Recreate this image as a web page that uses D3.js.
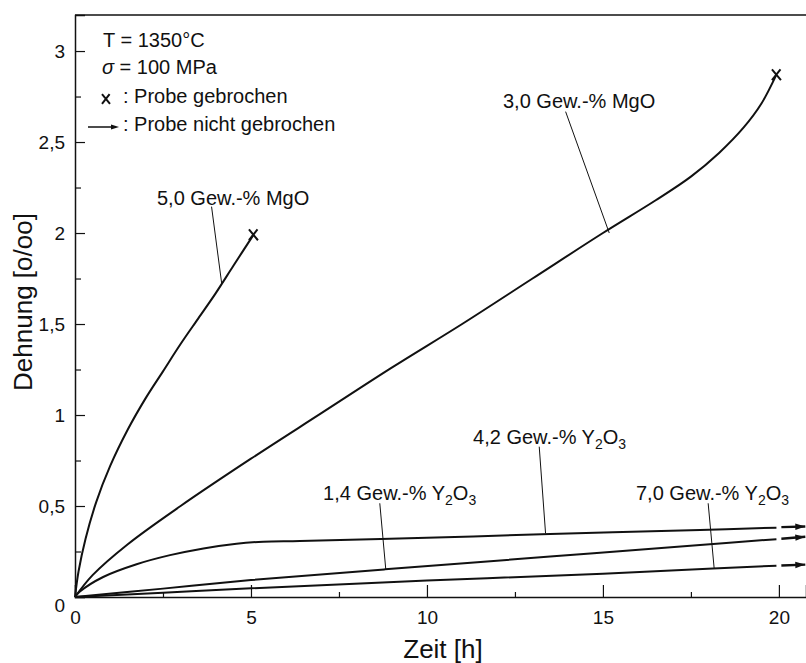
<!DOCTYPE html>
<html>
<head>
<meta charset="utf-8">
<script src="https://cdn.jsdelivr.net/npm/d3@7"></script>
<style>
  body { margin: 0; background: #fff; }
  svg { display: block; font-family: "Liberation Sans", Arial, Helvetica, sans-serif; }
</style>
</head>
<body>
<svg id="chart" width="806" height="663"></svg>
<script>
// creep curves, T = 1350 C, sigma = 100 MPa
// time [h] and strain [o/oo]

// 5,0 Gew.-% MgO (broken)
const TIME_MGO5 = [0, 0.1, 0.3, 0.6, 1.0, 1.5, 2.0, 2.5, 3.0, 3.5, 4.0, 4.5, 5.07]
const STRAIN_MGO5 = [0, 0.14, 0.32, 0.52, 0.72, 0.92, 1.09, 1.24, 1.39, 1.53, 1.67, 1.82, 1.99]

// 3,0 Gew.-% MgO (broken)
const TIME_MGO3 = [0, 0.5, 1.5, 3, 5, 7, 9, 11, 13, 15, 16.5, 17.5, 18.3, 19.0, 19.5, 19.93]
const STRAIN_MGO3 = [0, 0.12, 0.29, 0.50, 0.76, 1.01, 1.26, 1.50, 1.75, 2.00, 2.18, 2.31, 2.44, 2.58, 2.71, 2.87]

// 4,2 Gew.-% Y2O3 (not broken)
const TIME_Y42 = [0, 0.14, 0.8, 1.75, 2.7, 3.65, 4.59, 5.35, 6.39, 10, 13.5, 17.76, 19.93]
const STRAIN_Y42 = [0, 0.03, 0.11, 0.18, 0.23, 0.267, 0.293, 0.304, 0.308, 0.325, 0.346, 0.368, 0.381]

// 1,4 Gew.-% Y2O3 (not broken)
const TIME_Y14 = [0, 2.5, 5, 8.81, 13.5, 17.76, 19.93]
const STRAIN_Y14 = [0, 0.046, 0.093, 0.152, 0.222, 0.286, 0.318]

// 7,0 Gew.-% Y2O3 (not broken)
const TIME_Y70 = [0, 2.5, 5, 10, 15, 18.13, 19.93]
const STRAIN_Y70 = [0, 0.024, 0.048, 0.09, 0.128, 0.157, 0.172]

// short continuation after the gap, ending in an arrow
const TIME_TAIL = [20.07, 20.75]
const TAIL_Y42 = [0.384, 0.387]
const TAIL_Y14 = [0.320, 0.331]
const TAIL_Y70 = [0.173, 0.178]

const X_TICKS = [0, 5, 10, 15, 20]
const X_MINOR = [2.5, 7.5, 12.5, 17.5]
const Y_TICKS = [0, 0.5, 1, 1.5, 2, 2.5, 3]
const Y_MINOR = [0.25, 0.75, 1.25, 1.75, 2.25, 2.75]

const INK = '#111'

const svg = d3.select('#chart')

const x = d3.scaleLinear().domain([0, 20.77]).range([75, 806])
const y = d3.scaleLinear().domain([0, 3.198]).range([597, 15])

const comma = d => String(d).replace('.', ',')

/**
 * axes, ticks pointing inwards
 */
svg.append('g')
	.attr('transform', `translate(0,${y(0)})`)
	.call(d3.axisBottom(x).tickValues(X_TICKS).tickSize(-12).tickPadding(14).tickFormat(comma))

svg.append('g')
	.attr('transform', `translate(0,${y(0)})`)
	.call(d3.axisBottom(x).tickValues(X_MINOR).tickSize(-5).tickFormat(''))
	.call(g => g.select('.domain').remove())

const yAxis = svg.append('g')
	.attr('transform', `translate(${x(0)},0)`)
	.call(d3.axisLeft(y).tickValues(Y_TICKS).tickSize(-10).tickPadding(10).tickFormat(comma))

svg.append('g')
	.attr('transform', `translate(${x(0)},0)`)
	.call(d3.axisLeft(y).tickValues(Y_MINOR).tickSize(-6).tickFormat(''))
	.call(g => g.select('.domain').remove())

svg.selectAll('.domain').attr('stroke', INK).attr('stroke-width', 1.5)
svg.selectAll('.tick line').attr('stroke', INK).attr('stroke-width', 1.2)
svg.selectAll('.tick text')
	.attr('fill', INK)
	.style('font-size', '19px')
	.style('font-family', '"Liberation Sans", Arial, sans-serif')

// the 0 on the y axis sits a bit low in the original
yAxis.selectAll('.tick').filter(d => d === 0).select('text').attr('dy', '0.75em')

// top frame line
svg.append('line')
	.attr('x1', x(0)).attr('x2', x.range()[1])
	.attr('y1', y.range()[1]).attr('y2', y.range()[1])
	.attr('stroke', INK).attr('stroke-width', 1.5)

// axis titles
svg.append('text')
	.attr('x', 443).attr('y', 658)
	.attr('text-anchor', 'middle')
	.style('font-size', '26px')
	.attr('fill', INK)
	.text('Zeit [h]')

svg.append('text')
	.attr('transform', 'translate(32,302) rotate(-90)')
	.attr('text-anchor', 'middle')
	.style('font-size', '26px')
	.attr('fill', INK)
	.text('Dehnung [o/oo]')

/**
 * curves
 */
const line = d3.line()
	.x(d => x(d[0]))
	.y(d => y(d[1]))
	.curve(d3.curveCatmullRom.alpha(0.5))

const series = [
	{ t: TIME_MGO5, v: STRAIN_MGO5, broken: true },
	{ t: TIME_MGO3, v: STRAIN_MGO3, broken: true },
	{ t: TIME_Y42, v: STRAIN_Y42, tail: TAIL_Y42 },
	{ t: TIME_Y14, v: STRAIN_Y14, tail: TAIL_Y14 },
	{ t: TIME_Y70, v: STRAIN_Y70, tail: TAIL_Y70 },
]

const curves = svg.append('g').attr('class', 'curves')

function drawCross(g, cx, cy, r) {
	g.append('path')
		.attr('d', `M${cx - r},${cy - r * 1.2}L${cx + r},${cy + r * 1.2}M${cx + r * 0.9},${cy - r * 1.2}L${cx - r},${cy + r * 1.2}`)
		.attr('stroke', INK)
		.attr('stroke-width', 2)
		.attr('fill', 'none')
}

function drawArrow(g, x1, y1, x2, y2, len, half) {
	let a = Math.atan2(y2 - y1, x2 - x1)
	let bx = x2 - len * Math.cos(a)
	let by = y2 - len * Math.sin(a)
	let nx = -Math.sin(a) * half
	let ny = Math.cos(a) * half
	g.append('path')
		.attr('d', `M${x2},${y2}L${bx + nx},${by + ny}L${bx - nx},${by - ny}Z`)
		.attr('fill', INK)
}

series.forEach(s => {
	let pts = s.t.map((t, i) => [t, s.v[i]])
	curves.append('path')
		.attr('d', line(pts))
		.attr('fill', 'none')
		.attr('stroke', INK)
		.attr('stroke-width', 2)

	let last = pts[pts.length - 1]
	if (s.broken) {
		drawCross(curves, x(last[0]), y(last[1]), 4.5)
	} else {
		let tail = TIME_TAIL.map((t, i) => [t, s.tail[i]])
		curves.append('path')
			.attr('d', d3.line().x(d => x(d[0])).y(d => y(d[1]))(tail))
			.attr('fill', 'none')
			.attr('stroke', INK)
			.attr('stroke-width', 2.4)
		drawArrow(curves, x(tail[0][0]), y(tail[0][1]), x(tail[1][0]), y(tail[1][1]), 10, 3.2)
	}
})

/**
 * curve labels with leader lines (anchors in data units)
 */
const labels = [
	{ text: '5,0 Gew.-% MgO', at: [2.33, 2.154], from: [3.88, 2.145], to: [4.17, 1.72] },
	{ text: '3,0 Gew.-% MgO', at: [12.16, 2.687], from: [13.94, 2.667], to: [15.18, 2.0] },
	{ text: '4,2 Gew.-% Y', sub: true, at: [11.31, 0.841], from: [13.19, 0.826], to: [13.37, 0.350] },
	{ text: '1,4 Gew.-% Y', sub: true, at: [7.05, 0.533], from: [8.66, 0.515], to: [8.83, 0.152] },
	{ text: '7,0 Gew.-% Y', sub: true, at: [15.94, 0.533], from: [17.99, 0.515], to: [18.16, 0.158] },
]

const labelG = svg.append('g').attr('class', 'labels')

labels.forEach(l => {
	labelG.append('line')
		.attr('x1', x(l.from[0])).attr('y1', y(l.from[1]))
		.attr('x2', x(l.to[0])).attr('y2', y(l.to[1]))
		.attr('stroke', INK)
		.attr('stroke-width', 1)

	let t = labelG.append('text')
		.attr('x', x(l.at[0]))
		.attr('y', y(l.at[1]))
		.attr('fill', INK)
		.style('font-size', '20px')
	t.append('tspan').text(l.text)
	if (l.sub) {
		t.append('tspan').attr('dy', 5).style('font-size', '14px').text('2')
		t.append('tspan').attr('dy', -5).text('O')
		t.append('tspan').attr('dy', 5).style('font-size', '14px').text('3')
	}
})

/**
 * legend block, top left
 */
const legend = svg.append('g').attr('class', 'legend')
	.style('font-size', '20px')
	.attr('fill', INK)

legend.append('text').attr('x', 103).attr('y', 47).text('T = 1350°C')

let sigma = legend.append('text').attr('x', 102).attr('y', 74)
sigma.append('tspan').style('font-style', 'italic').text('σ')
sigma.append('tspan').text(' = 100 MPa')

drawCross(legend, 106, 99, 4)
legend.append('text').attr('x', 123).attr('y', 103).text(': Probe gebrochen')

legend.append('line')
	.attr('x1', 88).attr('x2', 112)
	.attr('y1', 127).attr('y2', 127)
	.attr('stroke', INK)
	.attr('stroke-width', 1.5)
drawArrow(legend, 100, 127, 119, 127, 8, 2.6)
legend.append('text').attr('x', 123).attr('y', 131).text(': Probe nicht gebrochen')
</script>
</body>
</html>
